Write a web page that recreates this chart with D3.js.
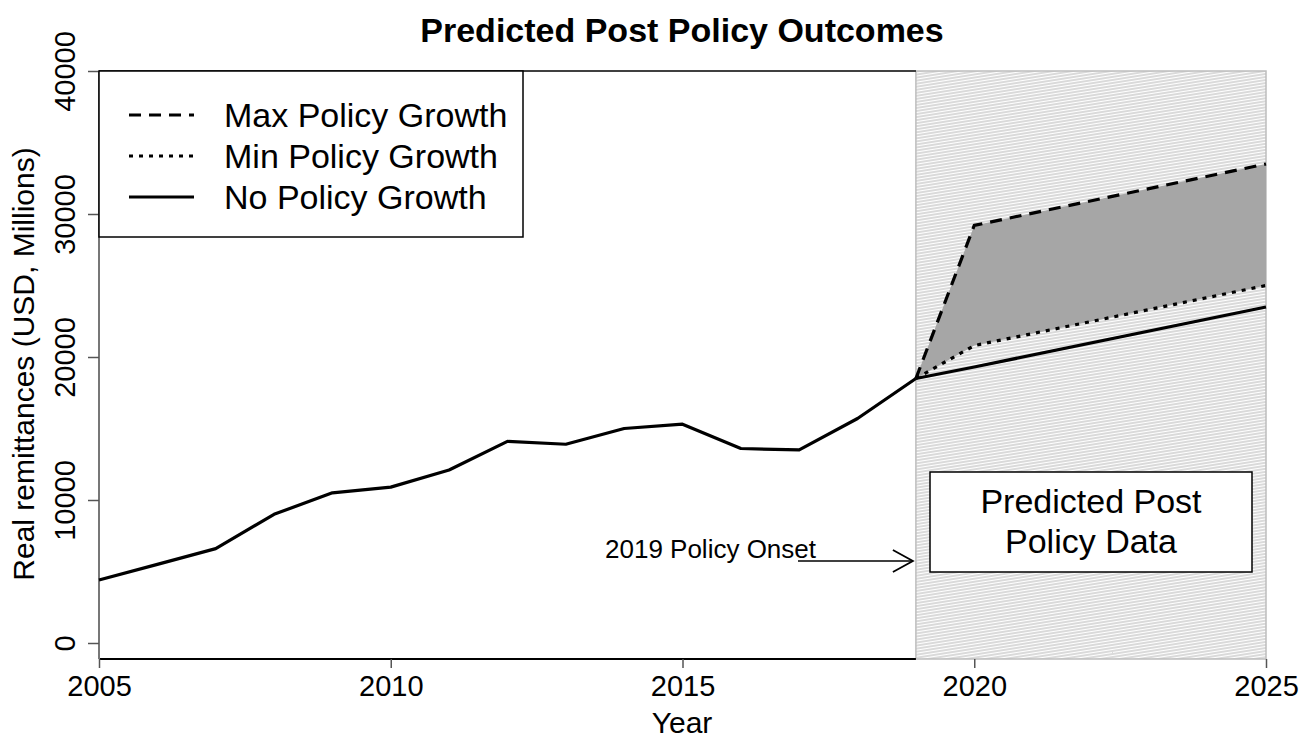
<!DOCTYPE html>
<html>
<head>
<meta charset="utf-8">
<script src="https://cdn.jsdelivr.net/npm/d3@7"></script>
<style>
  html, body { margin: 0; padding: 0; background: #fff; }
  svg { display: block; font-family: Arial, "Liberation Sans", sans-serif; }
</style>
</head>
<body>
<svg id="chart" width="1299" height="738"></svg>
<script>
// Observed remittances, 2005-2019
const years = [2005, 2006, 2007, 2008, 2009, 2010, 2011, 2012, 2013, 2014, 2015, 2016, 2017, 2018, 2019];
const observed = [4400, 5500, 6600, 9000, 10500, 10900, 12100, 14100, 13900, 15000, 15300, 13600, 13500, 15700, 18500];

// Projections after the 2019 policy onset
const projYears = [2019, 2020, 2025];
const maxGrowth = [18500, 29200, 33500];
const minGrowth = [18500, 20800, 25000];
const noGrowth = [18500, 19300, 23500];

const xTicks = [2005, 2010, 2015, 2020, 2025];
const yTicks = [0, 10000, 20000, 30000, 40000];
const legendLabels = ["Max Policy Growth", "Min Policy Growth", "No Policy Growth"];
const onsetYear = 2019;

const svg = d3.select("#chart");
const plotLeft = 99, plotRight = 1266, plotTop = 71, plotBottom = 659;
const FONT = "Arial, 'Liberation Sans', sans-serif";

const x = d3.scaleLinear().domain([2005, 2025]).range([plotLeft, plotRight]);
const y = d3.scaleLinear().domain([0, 40000]).range([643, 71]);

// hatch pattern for the projection period
const defs = svg.append("defs");
const pat = defs.append("pattern")
  .attr("id", "hatch")
  .attr("patternUnits", "userSpaceOnUse")
  .attr("width", 40).attr("height", 3)
  .attr("patternTransform", "rotate(-9)");
pat.append("rect").attr("width", 40).attr("height", 3).attr("fill", "#fff");
pat.append("line").attr("x1", 0).attr("x2", 40).attr("y1", 1).attr("y2", 1)
  .attr("stroke", "#b5b5b5").attr("stroke-width", 1.2);

svg.append("rect")
  .attr("x", x(onsetYear)).attr("y", plotTop)
  .attr("width", x(2025) - x(onsetYear)).attr("height", plotBottom - plotTop)
  .attr("fill", "url(#hatch)")
  .attr("stroke", "#bdbdbd").attr("stroke-width", 1.5);

// plot frame (left, top and bottom of the observed period)
svg.append("line").attr("x1", plotLeft).attr("x2", x(onsetYear)).attr("y1", plotTop).attr("y2", plotTop)
  .attr("stroke", "#000").attr("stroke-width", 1.5);
svg.append("line").attr("x1", plotLeft).attr("x2", x(onsetYear)).attr("y1", plotBottom).attr("y2", plotBottom)
  .attr("stroke", "#000").attr("stroke-width", 2);
svg.append("line").attr("x1", plotLeft).attr("x2", plotLeft).attr("y1", plotTop).attr("y2", plotBottom)
  .attr("stroke", "#777").attr("stroke-width", 2);

// axes
const xAxis = svg.append("g").attr("transform", `translate(0,${plotBottom})`)
  .call(d3.axisBottom(x).tickValues(xTicks).tickFormat(d3.format("d")).tickSize(9).tickPadding(7));
xAxis.select(".domain").remove();
xAxis.selectAll(".tick line").attr("stroke", "#555").attr("stroke-width", 1.5);
xAxis.selectAll(".tick text").attr("font-size", 29).attr("fill", "#000").attr("font-family", FONT);

const yAxis = svg.append("g").attr("transform", `translate(${plotLeft},0)`)
  .call(d3.axisLeft(y).tickValues(yTicks).tickFormat(d3.format("d")).tickSize(11));
yAxis.select(".domain").remove();
yAxis.selectAll(".tick line").attr("stroke", "#555").attr("stroke-width", 1.5);
yAxis.selectAll(".tick text")
  .attr("font-size", 29).attr("fill", "#000")
  .attr("font-family", FONT)
  .attr("text-anchor", "middle")
  .attr("x", 0).attr("dy", 0)
  .attr("transform", "translate(-24,0) rotate(-90)");

// titles
svg.append("text").attr("x", 682).attr("y", 42).attr("text-anchor", "middle")
  .attr("font-size", 34).attr("font-weight", "bold").text("Predicted Post Policy Outcomes");
svg.append("text").attr("x", 682).attr("y", 733).attr("text-anchor", "middle")
  .attr("font-size", 30).text("Year");
svg.append("text").attr("transform", "translate(34,364) rotate(-90)").attr("text-anchor", "middle")
  .attr("font-size", 30).text("Real remittances (USD, Millions)");

// band between max and min projections
const band = d3.area()
  .x((d, i) => x(projYears[i]))
  .y0((d, i) => y(minGrowth[i]))
  .y1(d => y(d));
svg.append("path").datum(maxGrowth).attr("d", band).attr("fill", "#a6a6a6");

const line = d3.line();
const drawLine = (xs, ys, dash) => svg.append("path")
  .datum(xs.map((v, i) => [x(v), y(ys[i])]))
  .attr("d", line)
  .attr("fill", "none").attr("stroke", "#000").attr("stroke-width", 3.2)
  .attr("stroke-linejoin", "round")
  .attr("stroke-dasharray", dash);

drawLine(projYears, noGrowth, null);
drawLine(projYears, minGrowth, "4,6");
drawLine(projYears, maxGrowth, "12,8");
drawLine(years, observed, null);

// onset annotation
svg.append("text").attr("x", 605).attr("y", 558).attr("font-size", 26).text("2019 Policy Onset");
const ay = 561, ax0 = 798, ax1 = x(onsetYear) - 3;
svg.append("line").attr("x1", ax0).attr("x2", ax1).attr("y1", ay).attr("y2", ay)
  .attr("stroke", "#000").attr("stroke-width", 1.6);
svg.append("path")
  .attr("d", `M${ax1 - 20},${ay - 11} L${ax1},${ay} L${ax1 - 20},${ay + 11}`)
  .attr("fill", "none").attr("stroke", "#000").attr("stroke-width", 1.8);

// projection label box
svg.append("rect").attr("x", 930).attr("y", 472).attr("width", 322).attr("height", 100)
  .attr("fill", "#fff").attr("stroke", "#000").attr("stroke-width", 1.5);
const lbl = svg.append("text").attr("text-anchor", "middle").attr("font-size", 34);
lbl.append("tspan").attr("x", 1091).attr("y", 513).text("Predicted Post");
lbl.append("tspan").attr("x", 1091).attr("y", 553).text("Policy Data");

// legend
svg.append("rect").attr("x", plotLeft).attr("y", plotTop).attr("width", 424).attr("height", 166)
  .attr("fill", "#fff").attr("stroke", "#000").attr("stroke-width", 1.5);
const dashes = ["12,8", "4,6", null];
legendLabels.forEach((lab, i) => {
  const ly = 115 + i * 41;
  svg.append("line").attr("x1", 129).attr("x2", 194).attr("y1", ly).attr("y2", ly)
    .attr("stroke", "#000").attr("stroke-width", 3.2).attr("stroke-dasharray", dashes[i]);
  svg.append("text").attr("x", 224).attr("y", ly + 12).attr("font-size", 34).text(lab);
});
</script>
</body>
</html>
